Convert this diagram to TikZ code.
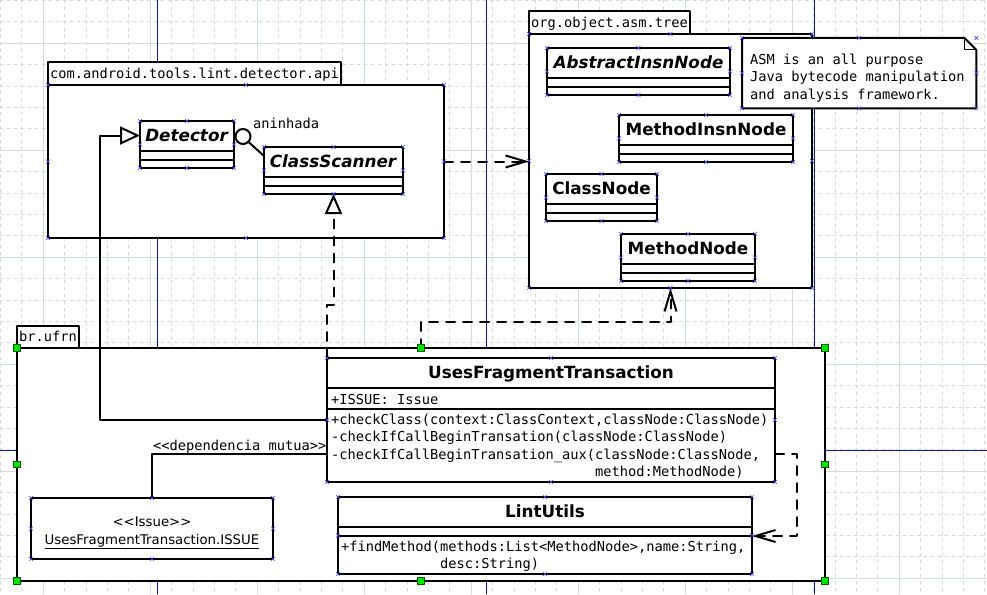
\documentclass[tikz,border=0pt]{standalone}
\usepackage{fontspec}
\newfontfamily\umlsans{DejaVu Sans}
\newfontfamily\umlmono{DejaVu Sans Mono}
\usepackage{tikz}
\usetikzlibrary{arrows.meta}
\usetikzlibrary{shapes.misc}
\definecolor{gridline}{RGB}{208,222,218}
\definecolor{pageline}{RGB}{20,20,190}
\definecolor{gripgreen}{RGB}{0,230,0}
\definecolor{anchorx}{RGB}{70,70,255}

\begin{document}
\begin{tikzpicture}[line cap=round,line join=round,x=1pt,y=-1pt,
    umlline/.style={line width=2pt},
    umlbox/.style={umlline,draw,fill=white,anchor=north west,inner sep=0pt,outer sep=0pt},
    pkgtab/.style={umlbox,anchor=south west,minimum height=22.5pt,text height=11pt,text depth=2pt,font=\fontsize{13.7}{17.5}\selectfont\umlmono},
    clsname/.style={anchor=base,inner sep=0pt,font=\fontsize{16.8}{20}\selectfont\umlsans\bfseries},
    monotext/.style={anchor=base west,inner sep=0pt,font=\fontsize{13.7}{17.5}\selectfont\umlmono},
    sanstext/.style={anchor=base,inner sep=0pt,font=\fontsize{13.3}{16}\selectfont\umlsans},
    dep/.style={umlline,dash pattern=on 9pt off 8pt,-{Straight Barb[length=20pt,width=12pt]}},
    gen/.style={umlline,-{Triangle[fill=white,length=20pt,width=18pt]}},
    real/.style={umlline,dash pattern=on 9pt off 8pt,-{Triangle[fill=white,length=20pt,width=17pt]}},
    gridminor/.style={gridline,line width=1pt,dash pattern=on 3pt off 4pt},
    gridmajor/.style={gridline,line width=1pt},
    pageedge/.style={pageline,line width=0.9pt},
    grip/.style={draw={rgb,255:red,0;green,90;blue,0},fill=gripgreen,line width=0.6pt,minimum size=6.5pt,inner sep=0pt},
    selx/.style={cross out,draw=anchorx,line width=0.6pt,minimum size=3pt,inner sep=0pt}]
\useasboundingbox (0,0) rectangle (987,594);
\fill[white] (0,0) rectangle (987,594);
\foreach \i in {0,...,46} \draw[gridminor] (0.5+21.4*\i,0) -- (0.5+21.4*\i,594);
\foreach \i in {0,...,27} \draw[gridminor] (0,0.5+21.4*\i) -- (987,0.5+21.4*\i);
\foreach \i in {2,7,...,42} \draw[gridmajor] (0.5+21.4*\i,0) -- (0.5+21.4*\i,594);
\foreach \i in {2,7,...,27} \draw[gridmajor] (0,0.5+21.4*\i) -- (987,0.5+21.4*\i);
\draw[pageedge] (157.3,0) -- (157.3,594);
\draw[pageedge] (486.8,0) -- (486.8,594);
\draw[pageedge] (814.3,0) -- (814.3,594);
\draw[pageedge] (0,450.3) -- (987,450.3);

\node[umlbox,minimum width=396pt,minimum height=153pt] (api) at (48,85) {};
\node[pkgtab,minimum width=293pt] (api-tab) at (api.north west) {com.android.tools.lint.detector.api};
\node[umlbox,minimum width=283pt,minimum height=254pt] (asm) at (529,34) {};
\node[pkgtab,minimum width=161pt] (asm-tab) at (asm.north west) {org.object.asm.tree};
\node[umlbox,minimum width=808pt,minimum height=233pt] (ufrn) at (17,348) {};
\node[pkgtab,minimum width=62pt] (ufrn-tab) at (ufrn.north west) {br.ufrn};

\node[anchor=north west,inner sep=0pt,minimum width=234pt,minimum height=70pt] (note) at (742,38) {};
\draw[umlline,fill=white] (note.north west) -- ([xshift=-12pt]note.north east) -- ([yshift=-12pt]note.north east) -- (note.south east) -- (note.south west) -- cycle;
\draw[line width=1pt] ([xshift=-12pt]note.north east) |- ([yshift=-12pt]note.north east);
\node[monotext] (note-l1) at ([xshift=8pt,yshift=-26.3pt]note.north west) {ASM is an all purpose};
\node[monotext] (note-l2) at ([yshift=-17.5pt]note-l1.base west) {Java bytecode manipulation};
\node[monotext] (note-l3) at ([yshift=-17.5pt]note-l2.base west) {and analysis framework.};

\foreach \n/\x/\y/\w/\lbl in {det/140/121/94/\textit{Detector},scan/264/147/139/\textit{ClassScanner},abs/547/48/183/\textit{AbstractInsnNode},minsn/619/115/174/MethodInsnNode,cnode/546/174/111/ClassNode,mnode/621/234/134/MethodNode}{
  \node[umlbox,minimum width=\w pt,minimum height=47pt] (\n) at (\x,\y) {};
  \node[clsname] (\n-title) at ([yshift=-20.3pt]\n.north) {\lbl};
  \draw[umlline] ([yshift=-30pt]\n.north west) -- ([yshift=-30pt]\n.north east);
  \draw[umlline] ([yshift=-38.5pt]\n.north west) -- ([yshift=-38.5pt]\n.north east);
}

\node[umlbox,minimum width=448pt,minimum height=124pt] (uft) at (327,358) {};
\node[clsname] (uft-title) at ([yshift=-20.3pt]uft.north) {UsesFragmentTransaction};
\draw[umlline] ([yshift=-30pt]uft.north west) -- ([yshift=-30pt]uft.north east);
\draw[umlline] ([yshift=-51pt]uft.north west) -- ([yshift=-51pt]uft.north east);
\node[monotext] (uft-attr) at ([xshift=4pt,yshift=-46pt]uft.north west) {+ISSUE: Issue};
\node[monotext] (uft-op1) at ([xshift=4pt,yshift=-66pt]uft.north west) {+checkClass(context:ClassContext,classNode:ClassNode)};
\node[monotext] (uft-op2) at ([yshift=-17.5pt]uft-op1.base west) {-checkIfCallBeginTransation(classNode:ClassNode)};
\node[monotext] (uft-op3) at ([yshift=-17.5pt]uft-op2.base west) {-checkIfCallBeginTransation\_aux(classNode:ClassNode,};
\node[monotext] (uft-op4) at ([yshift=-17.5pt]uft-op3.base west) {\phantom{-checkIfCallBeginTransation\_aux(}method:MethodNode)};

\node[umlbox,minimum width=414pt,minimum height=77pt] (lint) at (338,497) {};
\node[clsname] (lint-title) at ([yshift=-20.3pt]lint.north) {LintUtils};
\draw[umlline] ([yshift=-30pt]lint.north west) -- ([yshift=-30pt]lint.north east);
\draw[umlline] ([yshift=-39pt]lint.north west) -- ([yshift=-39pt]lint.north east);
\node[monotext] (lint-op1) at ([xshift=3pt,yshift=-54.7pt]lint.north west) {+findMethod(methods:List<MethodNode>,name:String,};
\node[monotext] (lint-op2) at ([yshift=-17pt]lint-op1.base west) {\phantom{+findMethod(}desc:String)};

\node[umlbox,minimum width=242pt,minimum height=61pt] (issue) at (31,498) {};
\node[sanstext] (issue-type) at ([yshift=-28pt]issue.north) {<<Issue>>};
\node[sanstext] (issue-name) at ([yshift=-46.3pt]issue.north) {\underline{UsesFragmentTransaction.ISSUE}};

\draw[dep] (api.east) -- (asm.west |- api.east);
\coordinate (nest) at ([xshift=9pt,yshift=8pt]det.east);
\draw[umlline,fill=white] (nest) circle [radius=7.5pt];
\draw[umlline] ([xshift=5.3pt,yshift=-5.3pt]nest) -- ([yshift=-9pt]scan.north west);
\node[monotext] (nest-label) at (253,128) {aninhada};
\coordinate (det-in) at ([yshift=-14.5pt]det.north west);
\draw[gen] ([yshift=-62pt]uft.north west) -| ([xshift=-40pt]det-in) -- (det-in);
\draw[real] (uft.north west) -- ++(0,-53) -| (scan.south);
\draw[dep] (ufrn.north) -- ++(0,-26) -| (asm.south);
\draw[umlline] (issue.north) |- ([yshift=-96pt]uft.north west);
\node[monotext] (mutual-label) at (153,450) {<<dependencia mutua>>};
\draw[dep] ([yshift=-96pt]uft.north east) -- ++(22,0) |- ([yshift=-39pt]lint.north east);

\foreach \a in {north west,north,north east,east,south east,south,south west,west}
  \node[grip] (ufrn-grip-\a) at (ufrn.\a) {};
\foreach \n in {api,asm,note,det,scan,abs,minsn,cnode,mnode,uft,lint,issue}
  \foreach \a in {north west,north,north east,east,south east,south,south west,west}
    \node[selx] (\n-x-\a) at (\n.\a) {};
\end{tikzpicture}
\end{document}
